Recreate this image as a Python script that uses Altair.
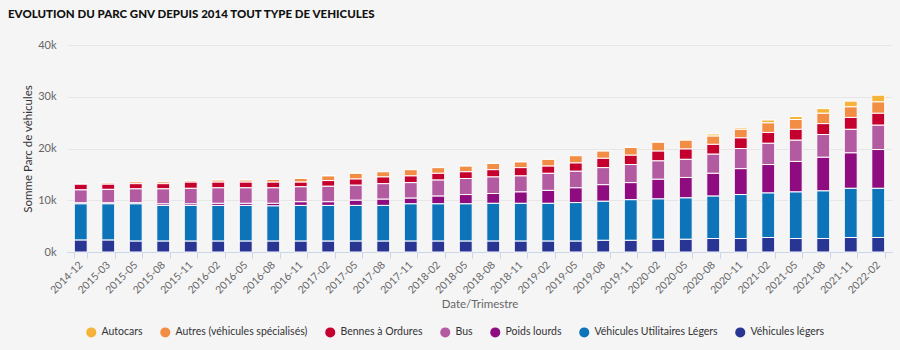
import altair as alt
import pandas as pd

categories = ["2014-12", "2015-03", "2015-05", "2015-08", "2015-11", "2016-02", "2016-05", "2016-08",
              "2016-11", "2017-02", "2017-05", "2017-08", "2017-11", "2018-02", "2018-05", "2018-08",
              "2018-11", "2019-02", "2019-05", "2019-08", "2019-11", "2020-02", "2020-05", "2020-08",
              "2020-11", "2021-02", "2021-05", "2021-08", "2021-11", "2022-02"]

series_names = ["Autocars", "Autres (véhicules spécialisés)", "Bennes à Ordures", "Bus",
                "Poids lourds", "Véhicules Utilitaires Légers", "Véhicules légers"]
series_colors = ["#F6B339", "#F28D45", "#C5002E", "#B25BA1", "#8E0C7F", "#0E74B9", "#283593"]

autocars = [0, 0, 50, 50, 50, 50, 50, 50, 50, 50, 50, 50, 50, 50, 50, 50,
            50, 50, 50, 50, 100, 150, 200, 400, 300, 550, 600, 900, 1100, 1300]
autres = [50, 250, 350, 350, 300, 400, 400, 500, 700, 900, 1100, 1000, 1200, 1100, 1100, 1200,
          1100, 1300, 1400, 1400, 1500, 1700, 1700, 1600, 1650, 1850, 1900, 2000, 2050, 2200]
bennes = [1100, 1000, 1000, 1000, 1200, 1100, 1100, 1100, 900, 1100, 1200, 1300, 1300, 1300, 1300, 1400,
          1600, 1400, 1600, 1800, 1800, 1900, 2000, 1900, 2050, 2100, 2100, 2100, 2300, 2300]
bus = [2500, 2600, 2700, 2900, 3000, 3000, 3000, 3000, 2900, 3000, 2900, 3000, 3000, 3100, 3100, 3200,
       3100, 3300, 3200, 3300, 3500, 3550, 3500, 3700, 3900, 4100, 4100, 4400, 4550, 4700]
poids_lourds = [200, 200, 200, 300, 300, 400, 400, 500, 700, 700, 1000, 1200, 1100, 1500, 1800, 1900,
                2200, 2500, 2850, 3200, 3300, 3800, 3950, 4400, 5000, 5500, 5900, 6500, 6850, 7500]
vul = [7000, 7000, 7200, 6900, 6900, 6900, 6900, 6800, 6900, 6900, 6900, 6900, 7200, 7200, 7200, 7300,
       7300, 7300, 7450, 7550, 7850, 7800, 8000, 8200, 8500, 8600, 9000, 9200, 9500, 9500]
vl = [2300, 2300, 2100, 2100, 2100, 2100, 2100, 2100, 2100, 2100, 2100, 2100, 2100, 2100, 2100, 2100,
      2100, 2100, 2100, 2250, 2250, 2450, 2450, 2600, 2600, 2800, 2600, 2600, 2800, 2800]

y_ticks = [0, 10000, 20000, 30000, 40000]

series_values = [autocars, autres, bennes, bus, poids_lourds, vul, vl]
rows = []
for idx, (name, vals) in enumerate(zip(series_names, series_values)):
    for cat, v in zip(categories, vals):
        rows.append({"Date": cat, "Type": name, "Valeur": v, "idx": idx})
df = pd.DataFrame(rows)

FONT = "Lato"

chart = alt.Chart(df).mark_bar(stroke="white", strokeWidth=1).encode(
    x=alt.X("Date:N", sort=categories,
            scale=alt.Scale(paddingInner=0.53, paddingOuter=0.265),
            axis=alt.Axis(title="Date/Trimestre", labelAngle=-45, labelAlign="right",
                          labelBaseline="middle", labelPadding=5, labelFontSize=10.5,
                          labelColor="#666666", labelFont=FONT, tickBand="extent",
                          tickColor="#ccd6eb", tickSize=6, domainColor="#ccd6eb",
                          titleFont=FONT, titleFontSize=11.5, titleFontWeight="normal",
                          titleColor="#666666", titlePadding=3, grid=False)),
    y=alt.Y("Valeur:Q", stack="zero",
            scale=alt.Scale(domain=[0, 40000], nice=False),
            axis=alt.Axis(title="Somme Parc de véhicules", values=y_ticks, format="~s",
                          labelFont=FONT, labelFontSize=11, labelColor="#666666",
                          labelPadding=11, ticks=False, domain=False,
                          gridColor="#e6e6e6", titleFont=FONT, titleFontSize=11.5,
                          titleFontWeight="normal", titleColor="#333333", titlePadding=4)),
    color=alt.Color("Type:N", scale=alt.Scale(domain=series_names, range=series_colors),
                    legend=alt.Legend(title=None, orient="none", direction="horizontal",
                                      legendX=19, legendY=282, columns=7, symbolType="circle",
                                      symbolSize=100, symbolStrokeWidth=0, labelFont=FONT,
                                      labelFontSize=10.5, labelColor="#333333", labelOffset=5,
                                      columnPadding=17, labelLimit=300)),
    order=alt.Order("idx:Q", sort="descending"),
).properties(
    width=825, height=207,
    title=alt.TitleParams("EVOLUTION DU PARC GNV DEPUIS 2014 TOUT TYPE DE VEHICULES",
                          anchor="start", frame="group", dx=-59, offset=19,
                          font=FONT, fontSize=11.5, fontWeight=900, color="#111111"),
    autosize=alt.AutoSizeParams(type="none"),
    padding={"left": 67, "top": 45, "right": 8, "bottom": 98},
    background="#f5f5f6",
).configure_view(stroke=None)

chart.save("out.html", embed_options={"renderer": "svg", "actions": False})
